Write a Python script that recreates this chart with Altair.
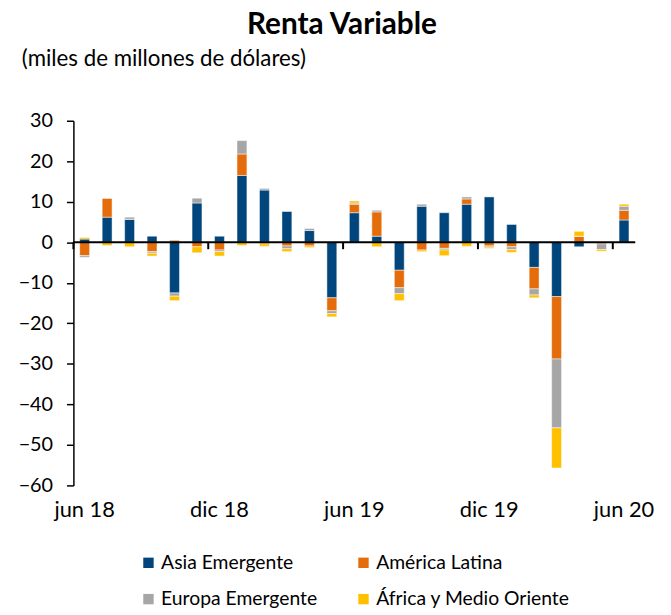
import altair as alt
import pandas as pd

months = ["jun 18", "jul 18", "ago 18", "sep 18", "oct 18", "nov 18", "dic 18",
          "ene 19", "feb 19", "mar 19", "abr 19", "may 19", "jun 19", "jul 19",
          "ago 19", "sep 19", "oct 19", "nov 19", "dic 19", "ene 20", "feb 20",
          "mar 20", "abr 20", "may 20", "jun 20"]
asia = [0.8, 6.2, 5.7, 1.5, -12.5, 9.7, 1.5, 16.5, 12.9, 7.6, 2.9, -13.7, 7.3,
        1.5, -6.9, 8.9, 7.3, 9.4, 11.2, 4.4, -6.2, -13.4, -1.1, 0.0, 5.5]
latam = [-3.3, 4.7, 0.0, -2.3, 0.5, -1.1, -1.9, 5.3, -0.4, -0.9, -0.9, -3.2, 2.1,
         6.0, -4.3, -1.9, -1.5, 1.3, -0.9, -1.1, -5.3, -15.4, 1.5, -0.4, 2.4]
europa = [-0.4, 0.0, 0.5, -0.4, -0.8, 1.2, -0.4, 3.3, 0.4, -0.7, 0.5, -0.7, 0.3,
          0.4, -1.5, 0.5, -0.4, 0.5, -0.3, -0.7, -1.5, -17.0, 0.0, -1.4, 1.0]
africa = [0.4, -0.8, -1.1, -0.7, -1.1, -1.5, -1.1, -0.8, -0.6, -0.7, -0.4, -0.8, 0.5,
          -1.1, -1.7, -0.4, -1.4, -1.0, -0.3, -0.7, -0.7, -9.9, 1.2, -0.4, 0.5]
series = ["Asia Emergente", "América Latina", "Europa Emergente", "África y Medio Oriente"]
colors = ["#00467C", "#E46C0A", "#A6A6A6", "#FFC000"]
# legend is filled column by column, so list it in that order
legend_order = ["Asia Emergente", "Europa Emergente", "América Latina", "África y Medio Oriente"]
legend_colors = ["#00467C", "#A6A6A6", "#E46C0A", "#FFC000"]
tick_months = ["jun 18", "dic 18", "jun 19", "dic 19", "jun 20"]
y_ticks = [30, 20, 10, 0, -10, -20, -30, -40, -50, -60]

title = "Renta Variable"
subtitle = "(miles de millones de dólares)"

rows = []
for i, m in enumerate(months):
    for k, (s, vals) in enumerate(zip(series, [asia, latam, europa, africa])):
        rows.append({"mes": m, "serie": s, "valor": vals[i], "orden": k})
df = pd.DataFrame(rows)

FONT = "Lato"
xscale = alt.Scale(domain=months, paddingInner=0, paddingOuter=0)
yscale = alt.Scale(domain=[-60, 30], nice=False, zero=False)

bars = alt.Chart(df).mark_bar(width=10, stroke="white", strokeWidth=0.8, strokeOpacity=0.6).encode(
    x=alt.X("mes:N", sort=months, scale=xscale,
            axis=alt.Axis(values=tick_months, title=None, domain=False, ticks=False,
                          labelFontSize=22, labelPadding=14, labelFont=FONT,
                          labelColor="black", labelAngle=0, grid=False)),
    y=alt.Y("valor:Q", stack="zero", scale=yscale,
            axis=alt.Axis(values=y_ticks, title=None, grid=False, domainColor="black",
                          tickColor="black", tickSize=7, tickWidth=1.5, domainWidth=1.5,
                          labelFontSize=20, labelPadding=14, labelFont=FONT,
                          labelColor="black")),
    color=alt.Color("serie:N", scale=alt.Scale(domain=legend_order, range=legend_colors),
                    legend=alt.Legend(title=None, orient="none", legendX=66, legendY=436,
                                      columns=2, columnPadding=36, rowPadding=16,
                                      symbolType="square", symbolSize=110,
                                      symbolStrokeWidth=0, labelFontSize=19.5, labelLimit=400,
                                      labelFont=FONT, labelColor="black", labelOffset=3)),
    order=alt.Order("orden:Q"),
)

zero = alt.Chart(pd.DataFrame({"y": [0]})).mark_rule(color="black", strokeWidth=2).encode(
    y=alt.Y("y:Q", scale=yscale)
)

ticks = alt.Chart(pd.DataFrame({"mes": tick_months})).mark_rule(color="black", strokeWidth=2).encode(
    x=alt.X("mes:N", sort=months, scale=xscale, bandPosition=0),
    y=alt.datum(0),
    y2=alt.datum(-1.7),
)

ttl = alt.Chart(pd.DataFrame({"t": [title]})).mark_text(
    align="center", baseline="middle", fontSize=30, font=FONT, fontWeight="bold", color="black"
).encode(text="t:N", x=alt.value(271), y=alt.value(-97))

sub = alt.Chart(pd.DataFrame({"t": [subtitle]})).mark_text(
    align="left", baseline="middle", fontSize=22.5, font=FONT, color="black"
).encode(text="t:N", x=alt.value(-52), y=alt.value(-62))

chart = alt.layer(bars, zero, ticks, ttl, sub).properties(
    width=567, height=368,
    autosize=alt.AutoSizeParams(type="none"),
    padding={"left": 66, "top": 111, "right": 28, "bottom": 127},
).configure_view(stroke=None)

chart.save("out.html", embed_options={"renderer": "svg", "actions": False})
